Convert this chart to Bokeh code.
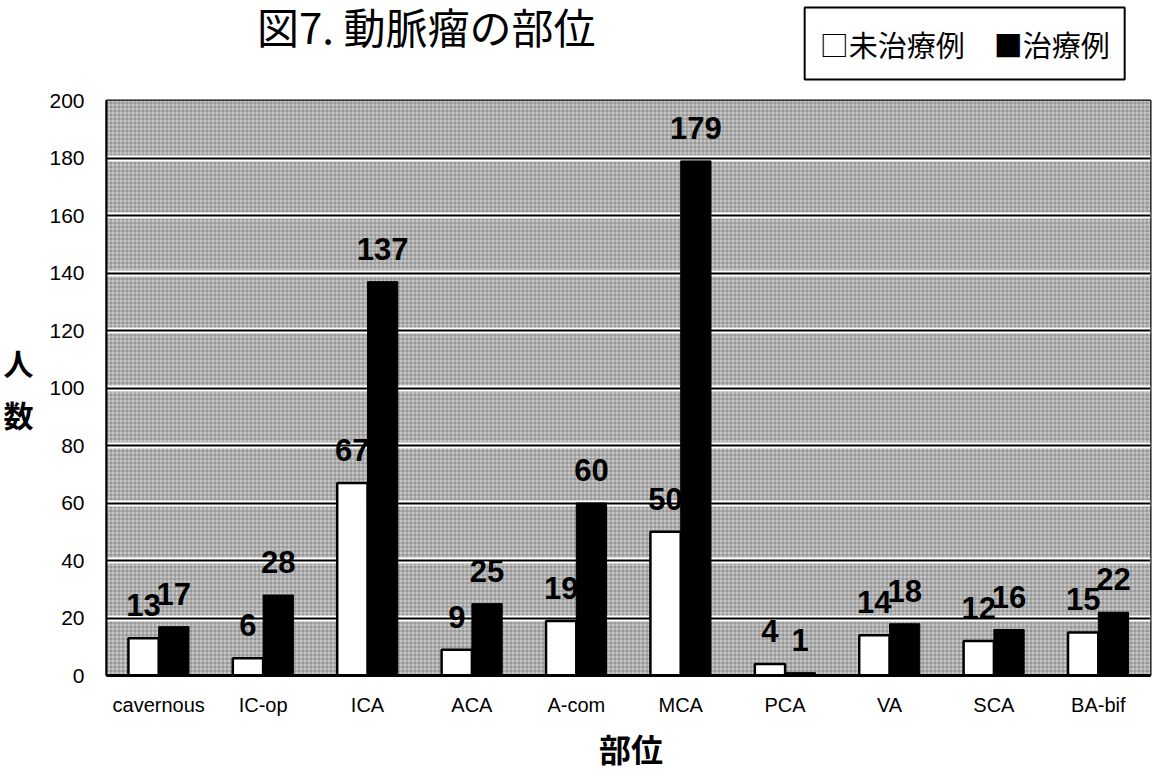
from bokeh.plotting import figure
from bokeh.layouts import column
from bokeh.models import (FactorRange, Range1d, ColumnDataSource, Label,
                          BoxAnnotation, Grid, FixedTicker)
from bokeh.transform import dodge
from bokeh.core.properties import value
from bokeh.embed import file_html
from bokeh.resources import INLINE

# aneurysm sites and patient counts
sites = ["cavernous", "IC-op", "ICA", "ACA", "A-com", "MCA", "PCA", "VA", "SCA", "BA-bif"]
untreated = [13, 6, 67, 9, 19, 50, 4, 14, 12, 15]
treated = [17, 28, 137, 25, 60, 179, 1, 18, 16, 22]
y_ticks = [0, 20, 40, 60, 80, 100, 120, 140, 160, 180, 200]

title_text = "図7. 動脈瘤の部位"
legend_text = "□未治療例　■治療例"
y_title = "人\n数"
x_title = "部位"

JP = "Noto Sans CJK JP"
NUM = "Liberation Sans"
W = 1155
FRAME_LEFT, FRAME_RIGHT = 105, 1150
TOP_H, MAIN_H, BOT_H = 88, 632, 50


def text_strip(height):
    """A blank strip for free text; its frame lines up with the chart's frame,
    so x is given in page pixels."""
    f = figure(width=W, height=height,
               x_range=Range1d(FRAME_LEFT, FRAME_RIGHT), y_range=Range1d(height, 0),
               x_axis_type=None, y_axis_type=None, min_border=0,
               output_backend="svg", toolbar_location=None)
    f.outline_line_color = None
    f.grid.visible = False
    f.background_fill_color = "white"
    f.border_fill_color = "white"
    return f


# --- heading strip: title and legend box
top = text_strip(TOP_H)
top.add_layout(Label(x=425, y=25, text=title_text, text_align="center",
                     text_baseline="middle", text_font=JP,
                     text_font_size="42px", text_color="black"))
top.add_layout(Label(x=964, y=43, text=legend_text, text_align="center",
                     text_baseline="middle", text_font=JP, text_font_size="29px",
                     text_color="black", border_line_color="black",
                     border_line_width=2, background_fill_color="white", padding=15))

# --- main bar chart
src = ColumnDataSource(dict(
    site=sites,
    untreated=untreated,
    treated=treated,
    u_txt=[str(v) for v in untreated],
    t_txt=[str(v) for v in treated],
))

p = figure(x_range=FactorRange(factors=sites), y_range=Range1d(0, 200),
           width=W, height=MAIN_H,
           min_border_left=FRAME_LEFT, min_border_right=W - FRAME_RIGHT,
           min_border_top=12, min_border_bottom=45,
           output_backend="svg", toolbar_location=None)

p.background_fill_color = "white"
p.border_fill_color = "white"
p.outline_line_color = "black"
p.outline_line_width = 2

# halftone-like grey panel behind the bars
panel = BoxAnnotation(fill_color="#c8c8c8", fill_alpha=1.0, line_color=None,
                      hatch_pattern="+", hatch_color="#505050", hatch_alpha=0.45,
                      hatch_scale=4, hatch_weight=1, level="image")
p.add_layout(panel)

# horizontal bands: white stripe with a thin dark core
p.xgrid.visible = False
p.ygrid.ticker = FixedTicker(ticks=y_ticks)
p.ygrid.grid_line_color = "white"
p.ygrid.grid_line_width = 6
core = Grid(dimension=1, ticker=FixedTicker(ticks=y_ticks),
            grid_line_color="black", grid_line_width=2)
p.add_layout(core)

bw = 0.29
p.vbar(x=dodge("site", -0.145, range=p.x_range), top="untreated", width=bw,
       source=src, fill_color="white", line_color="black", line_width=2.5)
p.vbar(x=dodge("site", 0.145, range=p.x_range), top="treated", width=bw,
       source=src, fill_color="black", line_color="black", line_width=1)

# value labels above each bar
for col, txt, off in (("untreated", "u_txt", -0.145), ("treated", "t_txt", 0.145)):
    p.text(x=dodge("site", off, range=p.x_range), y=col, text=txt, source=src,
           text_align="center", text_baseline="bottom", y_offset=-22,
           text_font=value(NUM), text_font_style="bold",
           text_font_size="31px", text_color="black")

# axes
p.yaxis.ticker = FixedTicker(ticks=y_ticks)
for ax in (p.xaxis[0], p.yaxis[0]):
    ax.major_tick_line_color = None
    ax.minor_tick_line_color = None
    ax.major_tick_out = 0
    ax.major_tick_in = 0
    ax.major_label_text_color = "black"
    ax.major_label_text_font = "Liberation Sans"
    ax.axis_line_color = "black"
p.yaxis.major_label_text_font_size = "21px"
p.yaxis.major_label_standoff = 22
p.yaxis.axis_line_width = 2
p.yaxis.axis_label = y_title
p.yaxis.axis_label_orientation = "horizontal"
p.yaxis.axis_label_text_font = JP
p.yaxis.axis_label_text_font_style = "bold"
p.yaxis.axis_label_text_font_size = "30px"
p.yaxis.axis_label_text_color = "black"
p.yaxis.axis_label_standoff = 13
p.xaxis.major_label_text_font_size = "20px"
p.xaxis.major_label_standoff = 18
p.xaxis.axis_line_width = 3

# --- footer strip: x axis title
bottom = text_strip(BOT_H)
bottom.add_layout(Label(x=630, y=27, text=x_title, text_align="center",
                        text_baseline="middle", text_font=JP, text_font_style="bold",
                        text_font_size="32px", text_color="black"))

page = column(top, p, bottom, spacing=0)
open("out.html", "w").write(file_html(page, INLINE))
